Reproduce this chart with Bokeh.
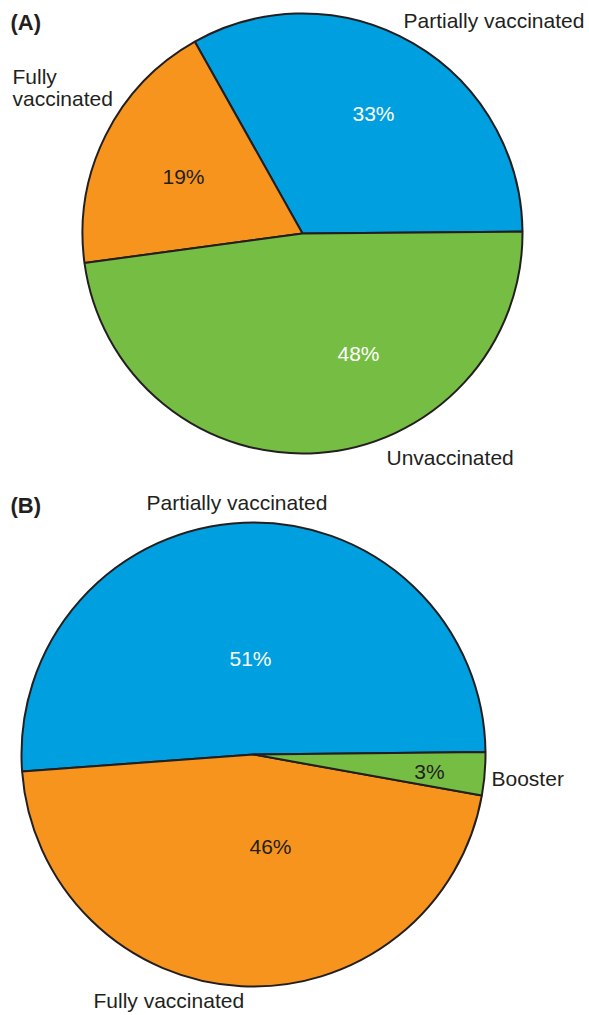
import numpy as np
from bokeh.plotting import figure
from bokeh.models import Range1d, ColumnDataSource
from bokeh.core.properties import value
from bokeh.embed import file_html
from bokeh.resources import INLINE

# ---- data ----
a_categories = ["Partially vaccinated", "Fully vaccinated", "Unvaccinated"]
a_values = [33, 19, 48]
b_categories = ["Partially vaccinated", "Fully vaccinated", "Booster"]
b_values = [51, 46, 3]
colors = {"Partially vaccinated": "#009fdf", "Fully vaccinated": "#f7941d",
          "Unvaccinated": "#76bd43", "Booster": "#76bd43"}

FONT = "Liberation Sans"
DARK = "#231f20"

W, H = 585, 1014
p = figure(width=W, height=H, output_backend="svg", toolbar_location=None,
           x_range=Range1d(0, W), y_range=Range1d(-H, 0),
           x_axis_location=None, y_axis_location=None, min_border=0)
p.grid.visible = False
p.outline_line_color = None


def pie(cats, vals, cx, cy, r, start_deg):
    fr = np.array(vals, float) / sum(vals)
    ends = np.cumsum(fr) * 2 * np.pi + np.deg2rad(start_deg)
    starts = np.concatenate([[np.deg2rad(start_deg)], ends[:-1]])
    src = ColumnDataSource(dict(start=starts, end=ends,
                                color=[colors[c] for c in cats]))
    p.wedge(x=cx, y=-cy, radius=r, start_angle="start", end_angle="end",
            fill_color="color", line_color=DARK, line_width=2, source=src)
    return starts, ends


pie(a_categories, a_values, 302, 233, 220, 0.5)
pie(b_categories, b_values, 253, 754, 232, 0.6)

# ---- texts (layout) ----
def txt(x, y, s, color=DARK, align="left", bold=False, size="21px",
        baseline="middle"):
    p.text(x=[x], y=[-y], text=[s], text_font=value(FONT), text_font_size=size,
           text_color=color, text_align=align, text_baseline=baseline,
           text_font_style="bold" if bold else "normal")

txt(10, 22, "(A)", bold=True, size="22px")
txt(403, 20, a_categories[0])
txt(12, 76, "Fully")
txt(12, 98, "vaccinated")
txt(386, 457, a_categories[2])
txt(373, 113, f"{a_values[0]}%", color="white", align="center")
txt(183, 176, f"{a_values[1]}%", align="center")
txt(358, 353, f"{a_values[2]}%", color="white", align="center")

txt(10, 505, "(B)", bold=True, size="22px")
txt(146, 502, b_categories[0])
txt(93, 1011, b_categories[1], baseline="bottom")
txt(491, 778, b_categories[2])
txt(250, 658, f"{b_values[0]}%", color="white", align="center")
txt(270, 846, f"{b_values[1]}%", align="center")
txt(429, 771, f"{b_values[2]}%", align="center")

open("out.html", "w").write(file_html(p, INLINE))
